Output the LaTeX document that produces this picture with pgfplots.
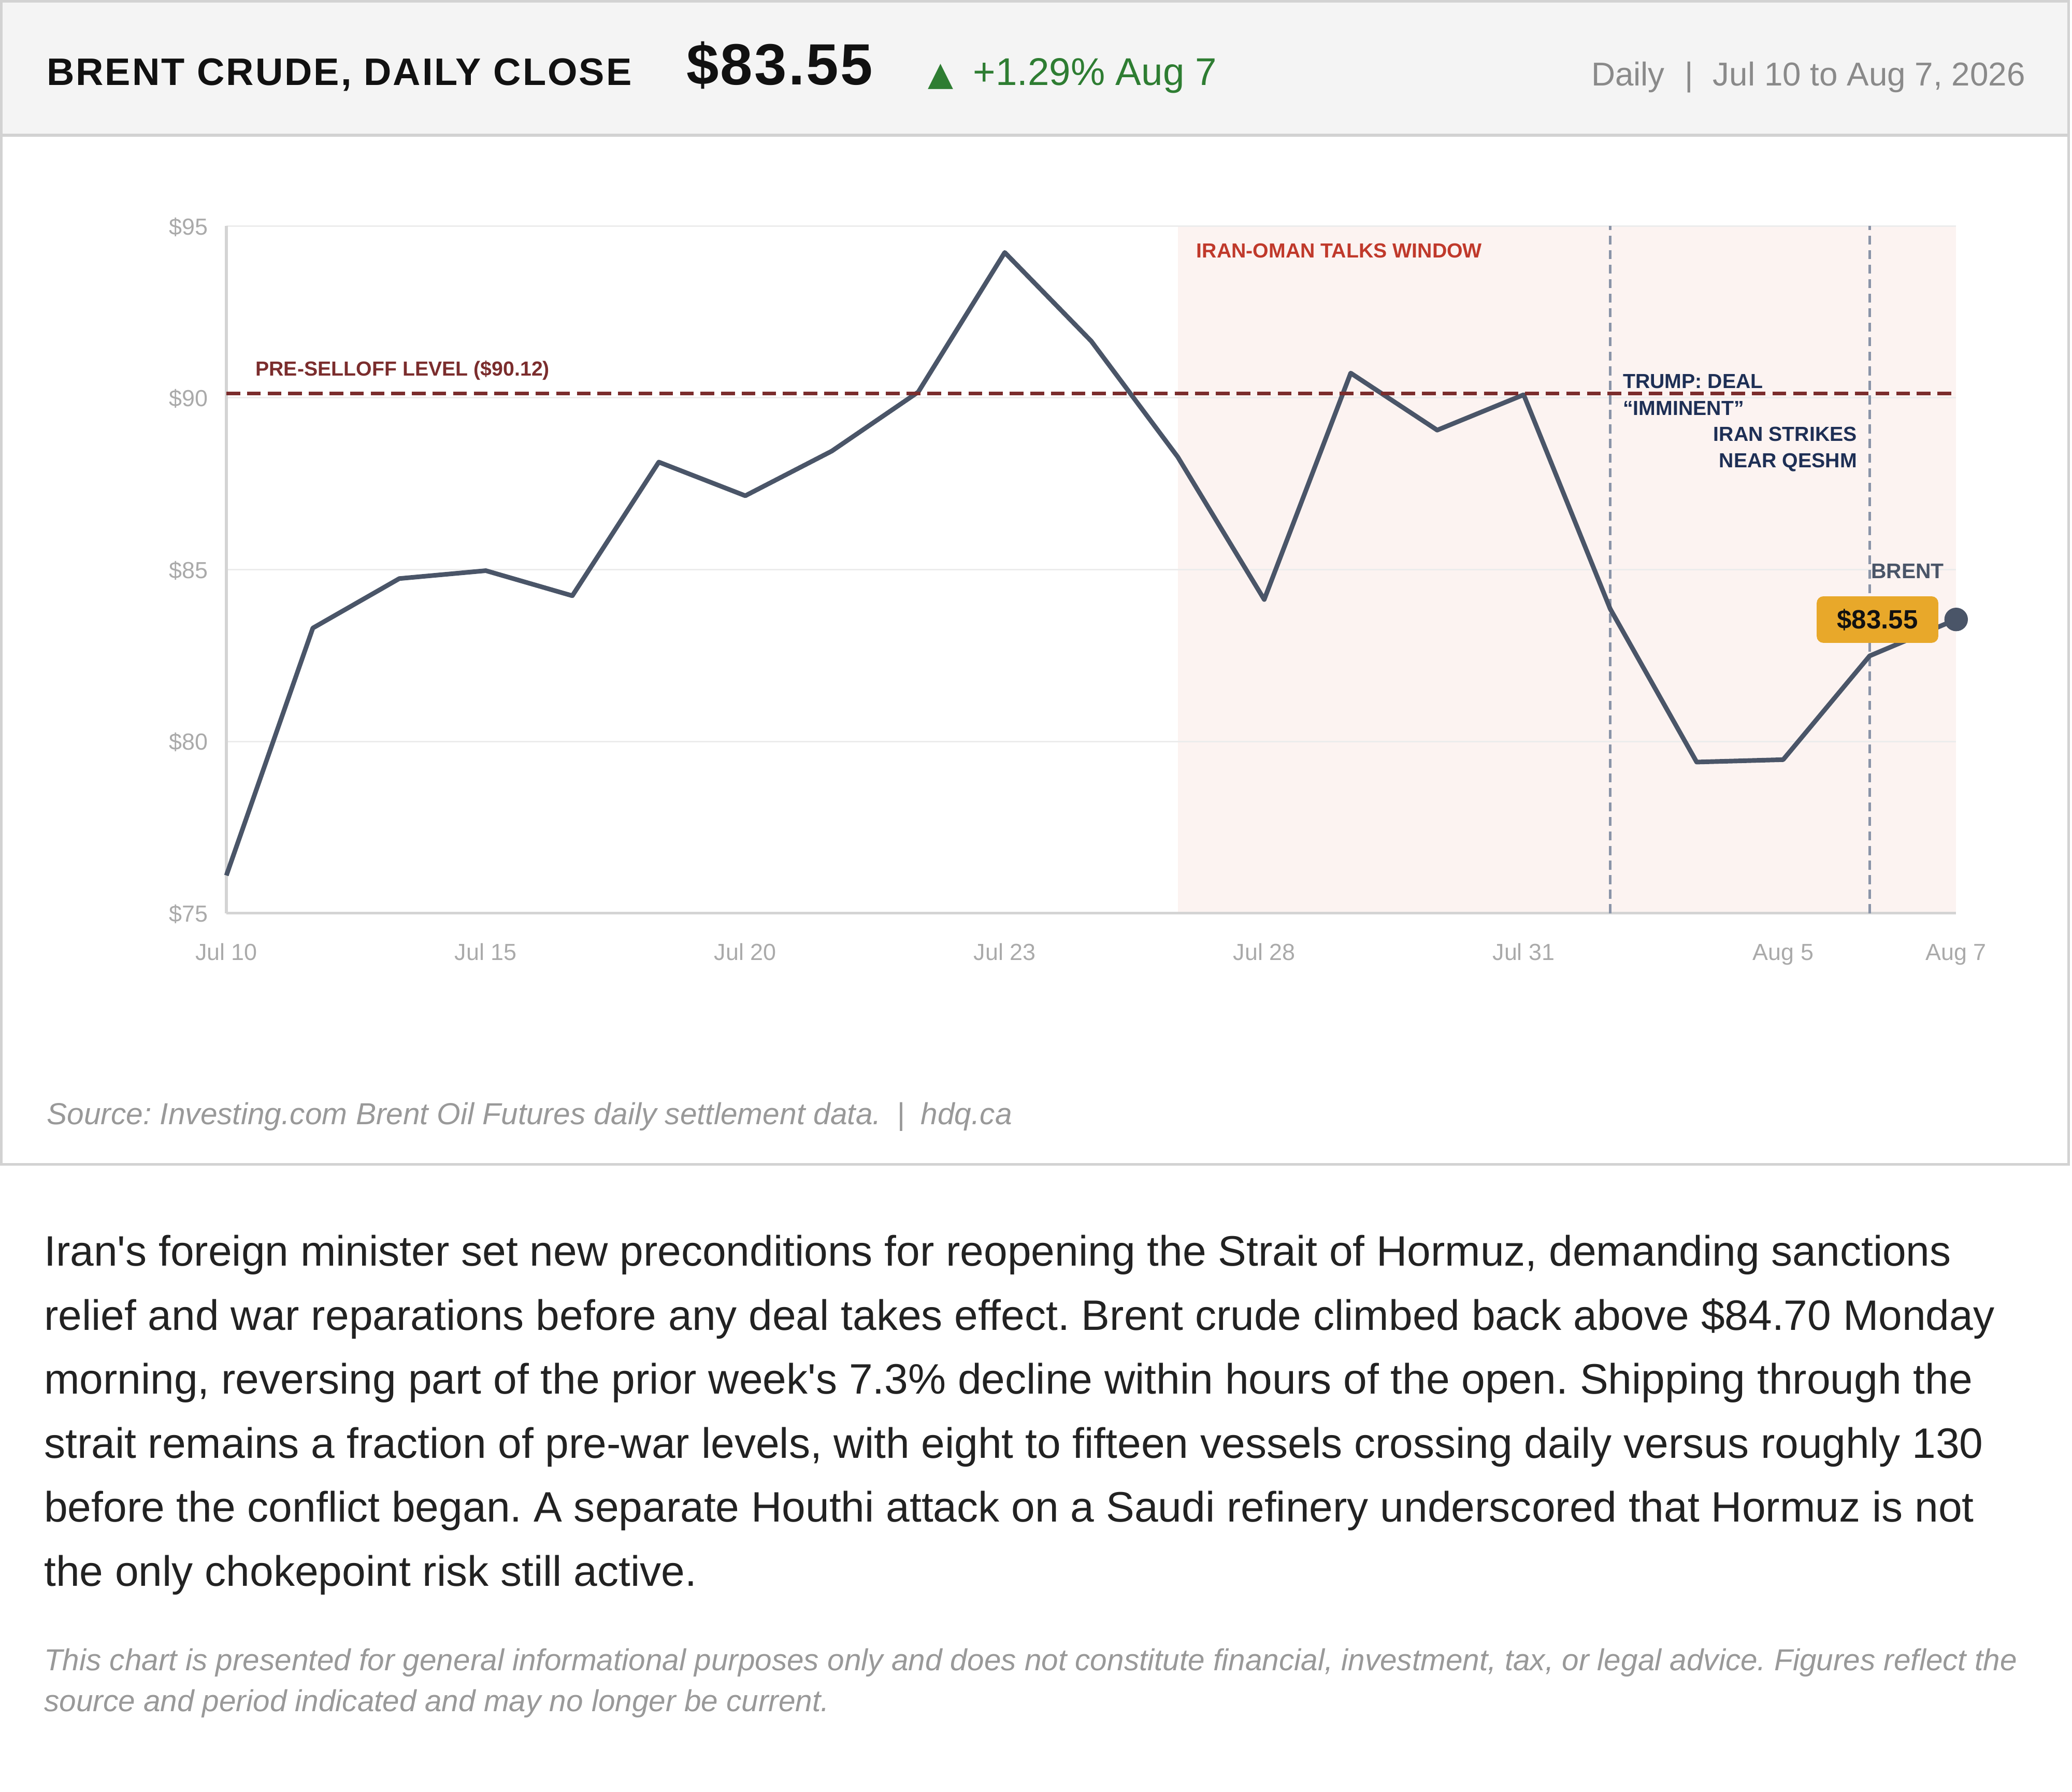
\documentclass[border=0pt]{standalone}
\usepackage{fontspec}
\setmainfont{Liberation Sans}
\newfontfamily\dejavu{DejaVu Sans}
\usepackage{pgfplots}
\pgfplotsset{compat=1.18}
\definecolor{headbg}{HTML}{F4F4F4}
\definecolor{cardborder}{HTML}{D2D2D2}
\definecolor{titlecol}{HTML}{111111}
\definecolor{upgreen}{HTML}{2E7D32}
\definecolor{headgray}{HTML}{8A8A8A}
\definecolor{srcgray}{HTML}{999999}
\definecolor{bodytext}{HTML}{222222}
\definecolor{brentline}{HTML}{4A5568}
\definecolor{selloff}{HTML}{7B2D2D}
\definecolor{talksred}{HTML}{C0392B}
\definecolor{navy}{HTML}{1E2F55}
\definecolor{vline}{HTML}{8A94A8}
\definecolor{shade}{HTML}{FCF3F1}
\definecolor{badge}{HTML}{E8A82A}
\definecolor{gridgray}{HTML}{ECECEC}
\definecolor{axisgray}{HTML}{D4D4D4}
\definecolor{ticklab}{HTML}{AAAAAA}

\pgfplotstableread{
idx price
0 76.10
1 83.30
2 84.74
3 84.97
4 84.24
5 88.13
6 87.15
7 88.45
8 90.17
9 94.23
10 91.65
11 88.28
12 84.13
13 90.72
14 89.06
15 90.09
16 83.86
17 79.40
18 79.47
19 82.49
20 83.55
}\brentdata

\begin{document}
\frenchspacing
\begin{tikzpicture}
\begin{scope}[x=0.5pt,y=0.5pt]
\useasboundingbox (0,0) rectangle (1568,-1355.9);
\fill[headbg] (0,0) rectangle (1566,-102);
\draw[cardborder, line width=1pt] (1,-1) rectangle (1565.5,-881);
\draw[cardborder, line width=1.2pt] (1,-102.3) -- (1565.5,-102.3);
% header
\node[anchor=base west, inner sep=0, text=titlecol, font=\fontsize{14.5}{17}\selectfont\bfseries\addfontfeatures{LetterSpace=4}] at (35,-64.4) {BRENT CRUDE, DAILY CLOSE};
\node[anchor=base west, inner sep=0, text=titlecol, font=\fontsize{22}{26}\selectfont\bfseries\addfontfeatures{LetterSpace=3}] at (519,-64) {\$83.55};
\node[anchor=base west, inner sep=0, text=upgreen, font=\dejavu\fontsize{12.5}{14}\selectfont] at (702,-64.4) {▲};
\node[anchor=base west, inner sep=0, text=upgreen, font=\fontsize{14.6}{17}\selectfont] at (736,-64.4) {+1.29\% Aug 7};
\node[anchor=base east, inner sep=0, text=headgray, font=\fontsize{12.5}{15}\selectfont] at (1533,-64.7) {Daily\hspace{7.5pt}|\hspace{7.5pt}Jul 10 to Aug 7, 2026};
% source
\node[anchor=base west, inner sep=0, text=srcgray, font=\fontsize{11.5}{13}\selectfont\itshape] at (35,-851) {Source: Investing.com Brent Oil Futures daily settlement data.\hspace{6pt}|\hspace{6pt}hdq.ca};
% paragraph
\begin{scope}[every node/.style={anchor=base west, inner sep=0, text=bodytext, font=\fontsize{16.1}{19}\selectfont}]
\node at (33,-958) {Iran\textquotesingle s foreign minister set new preconditions for reopening the Strait of Hormuz, demanding sanctions};
\node at (33,-1006.4) {relief and war reparations before any deal takes effect. Brent crude climbed back above \$84.70 Monday};
\node at (33,-1054.8) {morning, reversing part of the prior week\textquotesingle s 7.3\% decline within hours of the open. Shipping through the};
\node at (33,-1103.2) {strait remains a fraction of pre-war levels, with eight to fifteen vessels crossing daily versus roughly 130};
\node at (33,-1151.6) {before the conflict began. A separate Houthi attack on a Saudi refinery underscored that Hormuz is not};
\node at (33,-1200) {the only chokepoint risk still active.};
\end{scope}
\begin{scope}[every node/.style={anchor=base west, inner sep=0, text=srcgray, font=\fontsize{11.47}{13}\selectfont\itshape}]
\node at (33,-1264) {This chart is presented for general informational purposes only and does not constitute financial, investment, tax, or legal advice. Figures reflect the};
\node at (33,-1295) {source and period indicated and may no longer be current.};
\end{scope}
\end{scope}

\begin{axis}[
  at={(85.65pt,-345.5pt)}, anchor=south west,
  scale only axis, width=654.5pt, height=260pt,
  xmin=0, xmax=20, ymin=75, ymax=95,
  set layers, clip=false,
  axis lines*=left,
  axis line style={draw=axisgray, line width=1pt, -},
  ymajorgrids, grid style={draw=gridgray, line width=0.6pt},
  ytick={75,80,85,90,95},
  yticklabels={\$75,\$80,\$85,\$90,\$95},
  xtick={0,3,6,9,12,15,18,20},
  xticklabels={Jul 10,Jul 15,Jul 20,Jul 23,Jul 28,Jul 31,Aug 5,Aug 7},
  major tick length=0pt,
  tick label style={font=\fontsize{8.8}{10}\selectfont, text=ticklab, inner sep=0pt},
  xticklabel style={anchor=base, yshift=-17.75pt},
  yticklabel style={anchor=base east, xshift=-6.85pt, yshift=-3.3pt},
]
\addplot[fill=shade, draw=none, on layer=axis background] coordinates {(11,75) (11,95) (20,95) (20,75)} -- cycle;
\addplot[vline, line width=1pt, dash pattern=on 3.4pt off 2.1pt] coordinates {(16,75) (16,95)};
\addplot[vline, line width=1pt, dash pattern=on 3.4pt off 2.1pt] coordinates {(19,75) (19,95)};
\addplot[brentline, line width=1.75pt, line join=round, mark=none] table[x=idx, y=price] {\brentdata};
\addplot[selloff, line width=1.35pt, dash pattern=on 5.2pt off 2.6pt] coordinates {(0,90.12) (20,90.12)};
\addplot[only marks, mark=*, mark size=4.25pt, mark options={fill=brentline, draw=brentline}] coordinates {(20,83.55)};
\end{axis}

\begin{scope}[x=0.5pt,y=0.5pt]
\node[anchor=base west, inner sep=0, text=selloff, font=\fontsize{7.7}{9}\selectfont\bfseries] at (193,-284.2) {PRE-SELLOFF LEVEL (\$90.12)};
\node[anchor=base west, inner sep=0, text=talksred, font=\fontsize{7.7}{9}\selectfont\bfseries] at (905,-195) {IRAN-OMAN TALKS WINDOW};
\node[anchor=base west, inner sep=0, text=navy, font=\fontsize{7.7}{9}\selectfont\bfseries] at (1227.8,-293.6) {TRUMP: DEAL};
\node[anchor=base west, inner sep=0, text=navy, font=\fontsize{7.7}{9}\selectfont\bfseries] at (1227.8,-314) {“IMMINENT”};
\node[anchor=base east, inner sep=0, text=navy, font=\fontsize{7.7}{9}\selectfont\bfseries] at (1405.7,-333.8) {IRAN STRIKES};
\node[anchor=base east, inner sep=0, text=navy, font=\fontsize{7.7}{9}\selectfont\bfseries] at (1405.7,-353.6) {NEAR QESHM};
\node[anchor=base west, inner sep=0, text=brentline, font=\fontsize{8}{9}\selectfont\bfseries] at (1415.6,-437.7) {BRENT};
\fill[badge, rounded corners=2.5pt] (1374.8,-451.2) rectangle (1466.8,-486.4);
\node[anchor=base, inner sep=0, text=titlecol, font=\fontsize{10}{12}\selectfont\bfseries] at (1420.8,-475.5) {\$83.55};
\end{scope}
\end{tikzpicture}
\end{document}
